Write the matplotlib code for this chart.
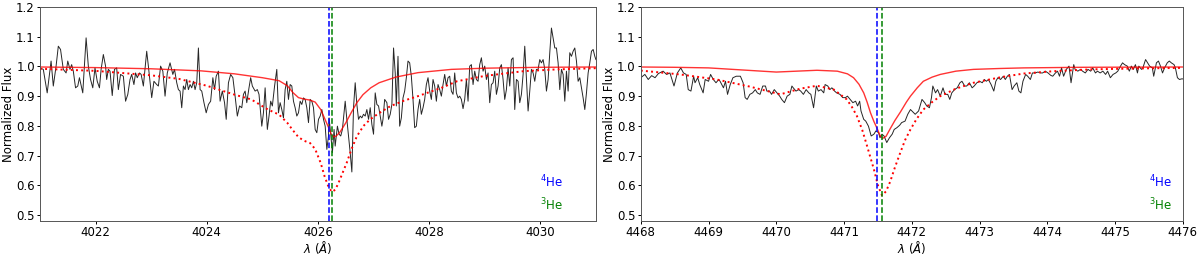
import numpy as np
import matplotlib.pyplot as plt

# ---- He I 4026 region ----
wl_4026 = [4021.00, 4021.06, 4021.13, 4021.20, 4021.24, 4021.29, 4021.33, 4021.37, 4021.42, 4021.47,
           4021.50, 4021.54, 4021.57, 4021.60, 4021.64, 4021.68, 4021.71, 4021.77, 4021.83, 4021.87,
           4021.91, 4021.95, 4021.99, 4022.03, 4022.07, 4022.10, 4022.14, 4022.18, 4022.20, 4022.23,
           4022.26, 4022.30, 4022.34, 4022.38, 4022.41, 4022.45, 4022.50, 4022.54, 4022.58, 4022.62,
           4022.65, 4022.69, 4022.72, 4022.75, 4022.79, 4022.82, 4022.86, 4022.92, 4022.95, 4023.01,
           4023.05, 4023.10, 4023.13, 4023.17, 4023.21, 4023.25, 4023.29, 4023.34, 4023.39, 4023.42,
           4023.46, 4023.49, 4023.52, 4023.55, 4023.58, 4023.61, 4023.64, 4023.67, 4023.70, 4023.73,
           4023.76, 4023.79, 4023.82, 4023.85, 4023.88, 4023.91, 4023.95, 4023.99, 4024.03, 4024.07,
           4024.11, 4024.14, 4024.17, 4024.21, 4024.24, 4024.28, 4024.32, 4024.35, 4024.39, 4024.43,
           4024.47, 4024.51, 4024.55, 4024.59, 4024.63, 4024.66, 4024.69, 4024.72, 4024.76, 4024.79,
           4024.82, 4024.87, 4024.91, 4024.94, 4024.99, 4025.02, 4025.05, 4025.09, 4025.12, 4025.15,
           4025.18, 4025.22, 4025.26, 4025.29, 4025.32, 4025.35, 4025.38, 4025.41, 4025.44, 4025.47,
           4025.50, 4025.53, 4025.56, 4025.59, 4025.62, 4025.65, 4025.68, 4025.71, 4025.74, 4025.77,
           4025.80, 4025.83, 4025.86, 4025.89, 4025.92, 4025.95, 4025.98, 4026.01, 4026.04, 4026.07,
           4026.10, 4026.13, 4026.16, 4026.19, 4026.20, 4026.23, 4026.26, 4026.29, 4026.31, 4026.35,
           4026.38, 4026.41, 4026.44, 4026.49, 4026.52, 4026.55, 4026.58, 4026.61, 4026.64, 4026.67,
           4026.70, 4026.73, 4026.76, 4026.79, 4026.82, 4026.85, 4026.88, 4026.91, 4026.94, 4026.97,
           4027.00, 4027.03, 4027.06, 4027.09, 4027.12, 4027.15, 4027.17, 4027.20, 4027.24, 4027.27,
           4027.30, 4027.33, 4027.36, 4027.39, 4027.41, 4027.44, 4027.47, 4027.50, 4027.53, 4027.56,
           4027.59, 4027.62, 4027.65, 4027.68, 4027.71, 4027.74, 4027.77, 4027.80, 4027.83, 4027.86,
           4027.89, 4027.92, 4027.95, 4027.98, 4028.01, 4028.04, 4028.07, 4028.10, 4028.13, 4028.16,
           4028.19, 4028.22, 4028.25, 4028.28, 4028.31, 4028.34, 4028.37, 4028.40, 4028.43, 4028.46,
           4028.49, 4028.52, 4028.55, 4028.58, 4028.61, 4028.64, 4028.67, 4028.70, 4028.73, 4028.76,
           4028.79, 4028.82, 4028.85, 4028.88, 4028.91, 4028.94, 4028.97, 4029.00, 4029.03, 4029.06,
           4029.09, 4029.12, 4029.15, 4029.18, 4029.21, 4029.24, 4029.27, 4029.30, 4029.33, 4029.36,
           4029.39, 4029.42, 4029.45, 4029.48, 4029.51, 4029.54, 4029.57, 4029.60, 4029.63, 4029.66,
           4029.69, 4029.72, 4029.75, 4029.78, 4029.81, 4029.84, 4029.87, 4029.90, 4029.93, 4029.96,
           4029.99, 4030.02, 4030.05, 4030.08, 4030.11, 4030.14, 4030.17, 4030.20, 4030.23, 4030.26,
           4030.29, 4030.32, 4030.35, 4030.38, 4030.41, 4030.44, 4030.47, 4030.50, 4030.53, 4030.56,
           4030.59, 4030.62, 4030.65, 4030.68, 4030.71, 4030.74, 4030.77, 4030.80, 4030.83, 4030.86,
           4030.89, 4030.92, 4030.95, 4030.98, 4031.00]
flux_4026 = [0.995, 0.990, 0.911, 1.018, 0.934, 1.001, 1.068, 1.057, 0.990, 0.978,
             1.018, 0.990, 1.006, 0.984, 0.928, 0.934, 0.962, 0.911, 1.096, 1.001,
             0.956, 0.928, 0.995, 0.950, 0.928, 0.990, 1.040, 1.001, 0.956, 0.990,
             0.984, 0.902, 0.990, 0.995, 0.922, 0.973, 0.967, 0.883, 0.906, 0.956,
             0.973, 0.939, 0.978, 0.962, 0.978, 0.973, 0.934, 1.051, 1.001, 0.895,
             0.950, 0.939, 0.934, 1.001, 0.984, 0.900, 0.978, 1.012, 0.973, 0.990,
             0.945, 0.922, 0.917, 0.861, 0.934, 0.922, 0.956, 0.922, 0.939, 0.928,
             0.950, 0.922, 0.945, 1.062, 0.922, 0.917, 0.878, 0.844, 0.872, 0.883,
             0.962, 0.922, 0.967, 0.984, 0.883, 0.917, 0.878, 0.822, 0.945, 0.973,
             0.962, 0.900, 0.833, 0.867, 0.861, 0.906, 0.917, 0.878, 0.928, 0.962,
             0.934, 0.917, 0.922, 0.906, 0.799, 0.844, 0.928, 0.788, 0.833, 0.883,
             0.867, 0.934, 0.990, 0.844, 0.878, 0.855, 0.827, 0.922, 0.950, 0.889,
             0.939, 0.934, 0.883, 0.861, 0.833, 0.844, 0.883, 0.872, 0.894, 0.889,
             0.861, 0.811, 0.889, 0.883, 0.861, 0.788, 0.777, 0.822, 0.833, 0.855,
             0.822, 0.799, 0.721, 0.766, 0.827, 0.772, 0.710, 0.788, 0.732, 0.799,
             0.772, 0.766, 0.788, 0.883, 0.822, 0.766, 0.710, 0.645, 0.861, 0.945,
             0.872, 0.822, 0.833, 0.827, 0.839, 0.833, 0.855, 0.822, 0.861, 0.805,
             0.772, 0.911, 0.872, 0.867, 0.833, 0.799, 0.822, 0.889, 0.878, 0.822,
             0.839, 0.872, 1.062, 0.978, 0.867, 1.034, 0.799, 0.827, 0.894, 0.917,
             0.962, 1.018, 1.012, 0.967, 0.889, 0.794, 0.799, 0.855, 0.889, 0.839,
             0.861, 0.889, 0.939, 0.962, 0.917, 0.889, 0.956, 0.934, 0.883, 0.939,
             0.922, 0.900, 0.939, 0.973, 0.934, 0.962, 0.967, 0.917, 0.906, 0.978,
             0.911, 0.894, 0.900, 0.889, 0.858, 0.889, 0.956, 0.883, 1.001, 1.006,
             0.939, 0.984, 0.956, 0.950, 1.006, 1.029, 0.984, 1.001, 0.956, 0.978,
             0.878, 0.939, 0.945, 0.984, 0.906, 0.934, 0.995, 1.006, 0.956, 0.889,
             0.922, 0.995, 0.934, 1.023, 1.029, 0.855, 0.956, 0.950, 0.878, 0.906,
             0.973, 1.068, 0.956, 0.850, 0.917, 0.990, 0.978, 0.950, 0.990, 0.990,
             1.023, 1.012, 1.023, 0.990, 0.917, 0.956, 1.046, 1.129, 1.096, 1.062,
             1.062, 1.012, 0.922, 0.990, 0.973, 0.883, 0.984, 0.917, 1.046, 1.034,
             1.051, 1.062, 1.018, 0.950, 0.962, 0.928, 0.894, 0.855, 0.911, 0.978,
             1.012, 1.051, 1.057, 1.034, 1.023]

model_wl_4026 = [4021.0, 4022.0, 4023.0, 4023.9, 4024.5, 4025.0, 4025.3, 4025.45, 4025.55, 4025.65,
                 4025.75, 4025.85, 4025.95, 4026.05, 4026.12, 4026.19, 4026.24, 4026.28, 4026.33, 4026.40,
                 4026.50, 4026.60, 4026.70, 4026.81, 4026.95, 4027.10, 4027.40, 4027.80, 4028.40, 4029.0,
                 4030.0, 4031.0]
model_solid_4026 = [0.998, 0.996, 0.992, 0.985, 0.975, 0.962, 0.952, 0.935, 0.912, 0.895,
                    0.890, 0.887, 0.880, 0.855, 0.825, 0.795, 0.772, 0.763, 0.766, 0.780,
                    0.810, 0.845, 0.878, 0.905, 0.928, 0.945, 0.964, 0.979, 0.990, 0.994,
                    0.997, 0.998]

dot_wl_4026 = [4021.0, 4022.0, 4023.0, 4023.5, 4024.0, 4024.5, 4024.8, 4025.1, 4025.3, 4025.45,
               4025.55, 4025.65, 4025.75, 4025.86, 4025.95, 4026.05, 4026.12, 4026.19, 4026.25, 4026.31,
               4026.37, 4026.45, 4026.52, 4026.60, 4026.70, 4026.82, 4026.94, 4027.10, 4027.30, 4027.55,
               4027.80, 4028.25, 4028.50, 4029.0, 4029.7, 4030.3, 4031.0]
model_dot_4026 = [0.992, 0.985, 0.970, 0.958, 0.935, 0.905, 0.889, 0.855, 0.838, 0.810,
                  0.785, 0.762, 0.750, 0.742, 0.722, 0.675, 0.630, 0.595, 0.578, 0.585,
                  0.608, 0.645, 0.677, 0.720, 0.765, 0.800, 0.822, 0.843, 0.866, 0.885,
                  0.900, 0.930, 0.950, 0.968, 0.984, 0.990, 0.994]

# ---- He I 4471 region ----
wl_4471 = [4468.00, 4468.06, 4468.11, 4468.16, 4468.21, 4468.26, 4468.33, 4468.38, 4468.43, 4468.49,
           4468.54, 4468.59, 4468.63, 4468.67, 4468.70, 4468.74, 4468.78, 4468.80, 4468.84, 4468.87,
           4468.92, 4468.95, 4469.00, 4469.03, 4469.07, 4469.11, 4469.15, 4469.17, 4469.22, 4469.25,
           4469.28, 4469.32, 4469.36, 4469.41, 4469.47, 4469.51, 4469.54, 4469.57, 4469.61, 4469.65,
           4469.69, 4469.72, 4469.76, 4469.80, 4469.84, 4469.86, 4469.90, 4469.93, 4469.97, 4470.01,
           4470.05, 4470.08, 4470.12, 4470.16, 4470.20, 4470.23, 4470.25, 4470.29, 4470.33, 4470.36,
           4470.40, 4470.44, 4470.48, 4470.51, 4470.55, 4470.59, 4470.62, 4470.66, 4470.70, 4470.72,
           4470.76, 4470.79, 4470.82, 4470.86, 4470.89, 4470.94, 4470.98, 4471.02, 4471.05, 4471.09,
           4471.13, 4471.17, 4471.20, 4471.23, 4471.25, 4471.29, 4471.32, 4471.36, 4471.40, 4471.44,
           4471.47, 4471.51, 4471.53, 4471.56, 4471.59, 4471.63, 4471.67, 4471.71, 4471.74, 4471.78,
           4471.82, 4471.85, 4471.90, 4471.94, 4471.98, 4472.05, 4472.10, 4472.15, 4472.19, 4472.22,
           4472.26, 4472.29, 4472.31, 4472.35, 4472.38, 4472.42, 4472.46, 4472.49, 4472.53, 4472.56,
           4472.59, 4472.63, 4472.67, 4472.71, 4472.74, 4472.78, 4472.81, 4472.85, 4472.89, 4472.92,
           4472.96, 4473.00, 4473.04, 4473.07, 4473.10, 4473.13, 4473.17, 4473.21, 4473.24, 4473.27,
           4473.31, 4473.35, 4473.38, 4473.41, 4473.44, 4473.48, 4473.51, 4473.55, 4473.58, 4473.61,
           4473.64, 4473.68, 4473.71, 4473.75, 4473.78, 4473.82, 4473.86, 4473.90, 4473.93, 4473.97,
           4474.01, 4474.05, 4474.08, 4474.12, 4474.15, 4474.18, 4474.21, 4474.24, 4474.28, 4474.32,
           4474.35, 4474.39, 4474.41, 4474.45, 4474.49, 4474.52, 4474.56, 4474.60, 4474.64, 4474.67,
           4474.71, 4474.74, 4474.78, 4474.82, 4474.86, 4474.89, 4474.93, 4474.97, 4475.01, 4475.04,
           4475.08, 4475.11, 4475.14, 4475.18, 4475.21, 4475.24, 4475.27, 4475.30, 4475.33, 4475.35,
           4475.39, 4475.41, 4475.45, 4475.48, 4475.51, 4475.55, 4475.57, 4475.61, 4475.64, 4475.67,
           4475.70, 4475.73, 4475.77, 4475.80, 4475.83, 4475.87, 4475.89, 4475.92, 4475.95, 4475.98,
           4476.00]
flux_4471 = [0.962, 0.973, 0.956, 0.969, 0.962, 0.976, 0.984, 0.973, 0.978, 0.934,
             0.978, 0.995, 0.978, 0.973, 0.922, 0.917, 0.967, 0.945, 0.962, 0.939,
             0.911, 0.956, 0.950, 0.973, 0.956, 0.945, 0.956, 0.950, 0.928, 0.950,
             0.906, 0.939, 0.962, 0.967, 0.967, 0.945, 0.895, 0.889, 0.906, 0.911,
             0.922, 0.911, 0.906, 0.934, 0.934, 0.917, 0.917, 0.906, 0.922, 0.911,
             0.900, 0.889, 0.878, 0.900, 0.906, 0.934, 0.928, 0.917, 0.922, 0.917,
             0.906, 0.922, 0.911, 0.906, 0.861, 0.934, 0.917, 0.922, 0.911, 0.939,
             0.934, 0.922, 0.928, 0.917, 0.911, 0.906, 0.895, 0.895, 0.900, 0.889,
             0.878, 0.883, 0.867, 0.883, 0.850, 0.822, 0.816, 0.799, 0.766, 0.772,
             0.783, 0.777, 0.760, 0.772, 0.766, 0.744, 0.760, 0.772, 0.788, 0.794,
             0.802, 0.811, 0.816, 0.839, 0.855, 0.839, 0.850, 0.889, 0.878, 0.867,
             0.861, 0.895, 0.934, 0.911, 0.922, 0.900, 0.928, 0.906, 0.906, 0.889,
             0.911, 0.922, 0.928, 0.945, 0.950, 0.934, 0.934, 0.945, 0.928, 0.934,
             0.945, 0.950, 0.945, 0.956, 0.950, 0.956, 0.939, 0.917, 0.950, 0.962,
             0.956, 0.967, 0.956, 0.967, 0.973, 0.922, 0.934, 0.945, 0.917, 0.911,
             0.950, 0.973, 0.967, 0.956, 0.978, 0.978, 0.981, 0.978, 0.978, 0.984,
             0.978, 0.970, 0.967, 0.978, 0.984, 0.967, 0.995, 0.967, 0.990, 1.001,
             0.945, 1.006, 0.990, 0.984, 0.990, 0.984, 0.978, 0.990, 0.984, 0.995,
             0.978, 0.984, 0.978, 0.984, 0.973, 0.984, 0.962, 0.973, 0.978, 0.984,
             1.001, 1.012, 1.006, 1.001, 0.984, 1.001, 0.990, 1.006, 0.978, 1.001,
             0.990, 0.995, 1.023, 1.012, 1.001, 0.995, 0.967, 1.012, 1.018, 1.001,
             0.978, 0.995, 1.012, 1.018, 1.012, 1.006, 0.995, 0.962, 0.956, 0.958,
             0.958]

model_wl_4471 = [4468.0, 4468.5, 4469.0, 4469.5, 4470.0, 4470.3, 4470.6, 4470.9, 4471.05, 4471.14,
                 4471.22, 4471.29, 4471.34, 4471.39, 4471.44, 4471.49, 4471.53, 4471.57, 4471.62, 4471.68,
                 4471.75, 4471.83, 4471.92, 4471.98, 4472.08, 4472.17, 4472.30, 4472.42, 4472.65, 4472.91,
                 4473.3, 4473.65, 4474.5, 4476.0]
model_solid_4471 = [0.998, 0.997, 0.995, 0.988, 0.981, 0.984, 0.987, 0.984, 0.975, 0.962,
                    0.940, 0.911, 0.880, 0.844, 0.815, 0.790, 0.768, 0.758, 0.765, 0.790,
                    0.818, 0.846, 0.880, 0.900, 0.928, 0.950, 0.964, 0.973, 0.984, 0.990,
                    0.993, 0.995, 0.997, 0.998]

dot_wl_4471 = [4468.0, 4468.58, 4469.12, 4469.61, 4470.06, 4470.35, 4470.60, 4470.85, 4471.04, 4471.12,
               4471.19, 4471.27, 4471.34, 4471.40, 4471.44, 4471.50, 4471.56, 4471.62, 4471.68, 4471.75,
               4471.83, 4471.90, 4471.98, 4472.07, 4472.17, 4472.30, 4472.42, 4472.65, 4472.91, 4473.3,
               4473.65, 4474.1, 4474.64, 4475.3, 4476.0]
model_dot_4471 = [0.986, 0.973, 0.956, 0.932, 0.906, 0.925, 0.935, 0.922, 0.889, 0.862,
                  0.833, 0.785, 0.732, 0.685, 0.654, 0.600, 0.566, 0.580, 0.612, 0.660,
                  0.710, 0.752, 0.788, 0.823, 0.855, 0.880, 0.900, 0.925, 0.945, 0.963,
                  0.976, 0.984, 0.990, 0.993, 0.995]

he4_lines = [4026.19, 4471.48]
he3_lines = [4026.26, 4471.56]
xlims = [(4021, 4031), (4468, 4476)]
xticks = [[4022, 4024, 4026, 4028, 4030], list(range(4468, 4477))]
text_x = [0.90, 0.937]

panels = [
    (wl_4026, flux_4026, model_wl_4026, model_solid_4026, dot_wl_4026, model_dot_4026),
    (wl_4471, flux_4471, model_wl_4471, model_solid_4471, dot_wl_4471, model_dot_4471),
]

fs = 8.5
fig = plt.figure(figsize=(12, 2.57), dpi=100)
ax_pos = [[0.0333, 0.140, 0.4633, 0.833], [0.534, 0.140, 0.4517, 0.833]]

for i, (wl, fl, mwl, msol, dwl, mdot) in enumerate(panels):
    ax = fig.add_axes(ax_pos[i])
    ax.plot(wl, fl, color='k', linewidth=0.7, alpha=0.85)
    ax.plot(mwl, msol, color='r', linewidth=1.0, alpha=0.8)
    ax.plot(dwl, mdot, color='r', linewidth=1.4, linestyle=':')
    ax.axvline(he4_lines[i], color='b', linestyle='--', linewidth=1.1)
    ax.axvline(he3_lines[i], color='g', linestyle='--', linewidth=1.1)
    ax.text(text_x[i], 0.18, r'$^4$He', color='b', fontsize=fs,
            transform=ax.transAxes, ha='left', va='center')
    ax.text(text_x[i], 0.075, r'$^3$He', color='g', fontsize=fs,
            transform=ax.transAxes, ha='left', va='center')
    ax.set_xlim(*xlims[i])
    ax.set_ylim(0.48, 1.2)
    ax.set_xticks(xticks[i])
    ax.set_yticks(np.arange(0.5, 1.21, 0.1))
    ax.tick_params(labelsize=fs, length=2.5, width=0.7, pad=1.2)
    ax.set_xlabel(r'$\lambda$ ($\AA$)', fontsize=fs, labelpad=0)
    ax.set_ylabel('Normalized Flux', fontsize=fs, labelpad=1)
    for sp in ax.spines.values():
        sp.set_linewidth(0.7)
        sp.set_color('#555555')

fig.savefig('out.png', dpi=100)
